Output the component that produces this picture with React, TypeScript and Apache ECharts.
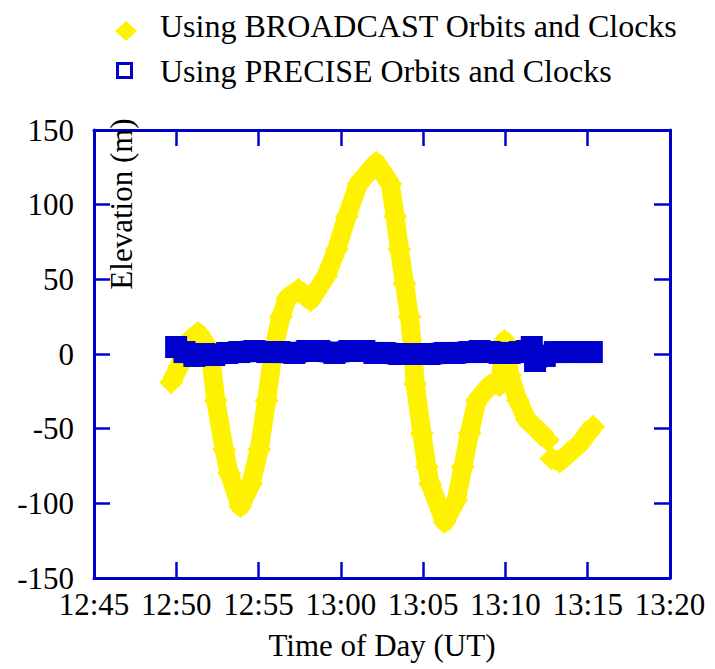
import React, { useEffect, useRef } from "react";
import * as echarts from "echarts";

// Time in minutes since midnight (12:45 = 765)
const X_TICKS_MIN = 765;
const X_TICKS_MAX = 800;
const Y_MIN = -150;
const Y_MAX = 150;

const BROADCAST_TIME = [
  769.69, 770.17, 770.62, 771.33, 772.04, 772.4, 772.91, 773.22, 773.89, 774.54,
  775.04, 775.49, 775.9, 776.36, 776.75, 777.42, 778.15, 779.1, 779.75, 780.36,
  781.07, 782.15, 783.0, 783.3, 783.56, 783.87, 784.17, 784.37, 784.52, 784.92,
  785.22, 785.43, 786.3, 787.01, 787.42, 787.82, 788.27, 789.04, 789.65, 789.95,
  790.26, 790.76, 791.3, 791.78, 792.57, null, 792.8, 793.3, 794.52, 795.13, 795.33,
];
const BROADCAST_ELEV = [
  -19, -8.5, 7, 14, 2.7, -31, -64, -80, -102, -87,
  -64, -31, 2.7, 25, 37.5, 43, 36, 52, 70, 92,
  114, 128, 114, 92, 70, 47, 25, 2.7, -20, -53,
  -75.5, -87, -112.5, -98, -75.5, -53, -31, -21, -21, 8.7,
  -14, -31, -44, -49, -57.6, null, -70, -72, -60, -51, -48.7,
];

const PRECISE_TIME = [
  769.99, 770.5, 771.1, 771.7, 772.3, 773.09, 773.83, 774.74, 775.53, 776.26,
  777.17, 777.96, 778.69, 779.61, 780.52, 781.43, 782.04, 782.65, 783.56, 784.48,
  785.39, 786.3, 786.9, 787.82, 788.43, 789.04, 789.65, 790.26, 790.87, 791.3,
  791.6, 791.8, 792.39, 793.0, 793.91, 794.82, 795.25,
];
const PRECISE_ELEV = [
  4.7, 1.3, -1.3, 0, -0.7, 0.7, 1.3, 2, 1.3, 1.3,
  0.7, 2, 2, 0.7, 2, 2, 0.7, 0.7, 0, 0,
  0, 0.7, 0.7, 1.3, 2, 1.3, 0.7, 0.7, 1.3, 2,
  4.7, -4.7, -1.3, 1.3, 1.3, 1.3, 1.3,
];

const SERIES_NAMES = [
  "Using BROADCAST Orbits and Clocks",
  "Using PRECISE Orbits and Clocks",
];

const YELLOW = "#FFF200";
const BLUE = "#0000CC";
const FONT = "'Liberation Serif', 'Times New Roman', serif";
const FS = 31;
const LEGEND_FS = 32;

const fmtTime = (v: number) => {
  const h = Math.floor(v / 60);
  const m = Math.round(v - h * 60);
  return `${h}:${String(m).padStart(2, "0")}`;
};

const zip = (xs: (number | null)[], ys: (number | null)[]) =>
  xs.map((x, i) => (x === null || ys[i] === null ? ["-", "-"] : [x, ys[i]]));

export default function App() {
  const ref = useRef<HTMLDivElement>(null);

  useEffect(() => {
    if (!ref.current) return;
    const chart = echarts.init(ref.current, undefined, { renderer: "svg" });

    const axisLine = { show: true, onZero: false, lineStyle: { color: BLUE, width: 3 } };
    const axisTick = { show: true, inside: true, length: 16, lineStyle: { color: BLUE, width: 2.5 } };

    chart.setOption({
      animation: false,
      backgroundColor: "#ffffff",
      grid: { left: 94, right: 45, top: 130, bottom: 91, containLabel: false },
      xAxis: [
        {
          type: "value",
          min: X_TICKS_MIN,
          max: X_TICKS_MAX,
          interval: 5,
          position: "bottom",
          axisLine,
          axisTick,
          splitLine: { show: false },
          axisLabel: {
            formatter: fmtTime,
            fontFamily: FONT,
            fontSize: FS,
            color: "#000",
            margin: 11,
          },
          name: "Time of Day (UT)",
          nameLocation: "middle",
          nameGap: 52,
          nameTextStyle: { fontFamily: FONT, fontSize: FS, color: "#000" },
        },
        {
          type: "value",
          min: X_TICKS_MIN,
          max: X_TICKS_MAX,
          interval: 5,
          position: "top",
          axisLine,
          axisTick,
          splitLine: { show: false },
          axisLabel: { show: false },
        },
      ],
      yAxis: [
        {
          type: "value",
          min: Y_MIN,
          max: Y_MAX,
          interval: 50,
          position: "left",
          axisLine,
          axisTick,
          splitLine: { show: false },
          axisLabel: { fontFamily: FONT, fontSize: FS, color: "#000", margin: 20 },
        },
        {
          type: "value",
          min: Y_MIN,
          max: Y_MAX,
          interval: 50,
          position: "right",
          axisLine,
          axisTick,
          splitLine: { show: false },
          axisLabel: { show: false },
        },
      ],
      series: [
        {
          name: SERIES_NAMES[0],
          type: "line",
          xAxisIndex: 0,
          yAxisIndex: 0,
          data: zip(BROADCAST_TIME, BROADCAST_ELEV),
          connectNulls: false,
          symbol: "diamond",
          symbolSize: 24,
          showSymbol: true,
          itemStyle: { color: YELLOW },
          lineStyle: { color: YELLOW, width: 19, join: "round", cap: "butt" },
          z: 2,
        },
        {
          name: SERIES_NAMES[1],
          type: "line",
          xAxisIndex: 0,
          yAxisIndex: 0,
          data: zip(PRECISE_TIME, PRECISE_ELEV),
          symbol: "rect",
          symbolSize: 22,
          showSymbol: true,
          itemStyle: { color: BLUE },
          lineStyle: { color: BLUE, width: 22, join: "round", cap: "butt" },
          z: 3,
        },
      ],
      graphic: [
        {
          type: "polygon",
          shape: { points: [[115, 31], [126, 21], [137, 31], [126, 41]] },
          style: { fill: YELLOW },
        },
        {
          type: "text",
          x: 160,
          y: 26,
          style: {
            text: SERIES_NAMES[0],
            font: `${LEGEND_FS}px ${FONT}`,
            fill: "#000",
            textAlign: "left",
            textVerticalAlign: "middle",
          },
        },
        {
          type: "rect",
          shape: { x: 117.5, y: 63.5, width: 14, height: 14 },
          style: { fill: "#fff", stroke: BLUE, lineWidth: 3 },
        },
        {
          type: "text",
          x: 160,
          y: 71,
          style: {
            text: SERIES_NAMES[1],
            font: `${LEGEND_FS}px ${FONT}`,
            fill: "#000",
            textAlign: "left",
            textVerticalAlign: "middle",
          },
        },
        {
          type: "text",
          x: 121,
          y: 204,
          rotation: Math.PI / 2,
          style: {
            text: "Elevation (m)",
            font: `${FS}px ${FONT}`,
            fill: "#000",
            textAlign: "center",
            textVerticalAlign: "middle",
          },
          z: 10,
        },
      ],
    });

    return () => chart.dispose();
  }, []);

  return (
    <div
      ref={ref}
      style={{ position: "fixed", left: 0, top: 0, width: 715, height: 669, background: "#fff" }}
    />
  );
}
